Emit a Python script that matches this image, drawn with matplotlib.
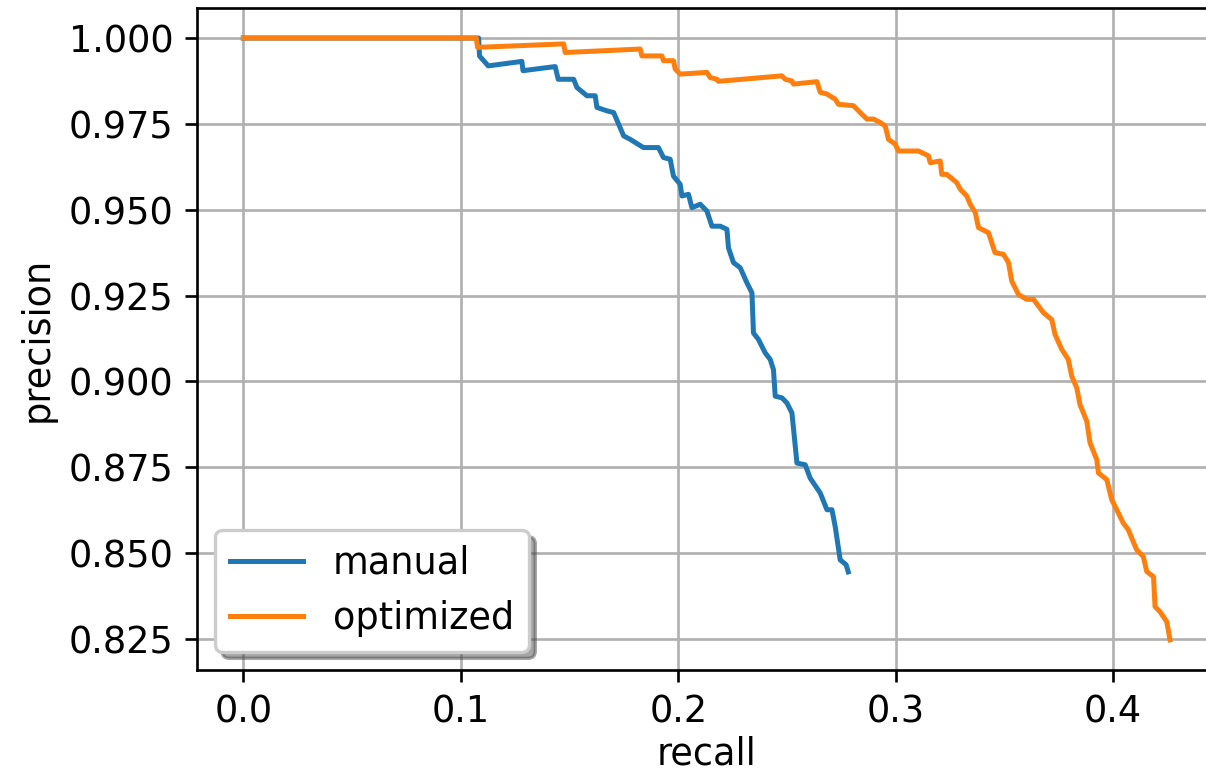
import matplotlib
matplotlib.use("Agg")
import matplotlib.pyplot as plt

# precision / recall points
manual_recall = [0.0, 0.1082, 0.1086, 0.1126, 0.1281, 0.1286, 0.1434, 0.1448, 0.1519,
                 0.1534, 0.1580, 0.1618, 0.1626, 0.1672, 0.1703, 0.1749, 0.1779, 0.1840,
                 0.1909, 0.1932, 0.1963, 0.1978, 0.2009, 0.2017, 0.2047, 0.2063, 0.2101,
                 0.2132, 0.2155, 0.2193, 0.2224, 0.2231, 0.2254, 0.2285, 0.2316, 0.2339,
                 0.2346, 0.2369, 0.2400, 0.2423, 0.2438, 0.2446, 0.2477, 0.2500, 0.2523,
                 0.2546, 0.2584, 0.2607, 0.2653, 0.2684, 0.2707, 0.2722, 0.2745, 0.2772,
                 0.2782]
manual_precision = [1.0, 1.0, 0.9948, 0.9919, 0.9932, 0.9905, 0.9917, 0.9880, 0.9880,
                    0.9856, 0.9832, 0.9832, 0.9798, 0.9788, 0.9783, 0.9715, 0.9705, 0.9681,
                    0.9681, 0.9652, 0.9647, 0.9598, 0.9574, 0.9540, 0.9545, 0.9506, 0.9516,
                    0.9496, 0.9452, 0.9452, 0.9443, 0.9389, 0.9346, 0.9331, 0.9287, 0.9258,
                    0.9141, 0.9122, 0.9083, 0.9064, 0.9034, 0.8957, 0.8952, 0.8937, 0.8908,
                    0.8762, 0.8757, 0.8718, 0.8675, 0.8626, 0.8626, 0.8577, 0.8480, 0.8466,
                    0.8445]

optimized_recall = [0.0, 0.1071, 0.1077, 0.1473, 0.1480, 0.1825, 0.1833, 0.1925, 0.1932,
                    0.1978, 0.1986, 0.2009, 0.2132, 0.2147, 0.2178, 0.2185, 0.2477, 0.2492,
                    0.2523, 0.2530, 0.2638, 0.2653, 0.2684, 0.2722, 0.2737, 0.2806, 0.2845,
                    0.2868, 0.2898, 0.2929, 0.2952, 0.2967, 0.2998, 0.3013, 0.3105, 0.3151,
                    0.3159, 0.3205, 0.3212, 0.3235, 0.3281, 0.3297, 0.3327, 0.3343, 0.3366,
                    0.3381, 0.3427, 0.3457, 0.3496, 0.3519, 0.3534, 0.3565, 0.3603, 0.3634,
                    0.3680, 0.3718, 0.3733, 0.3764, 0.3794, 0.3810, 0.3833, 0.3848, 0.3879,
                    0.3894, 0.3925, 0.3933, 0.3971, 0.3994, 0.4017, 0.4047, 0.4070, 0.4086,
                    0.4109, 0.4139, 0.4155, 0.4186, 0.4193, 0.4216, 0.4247, 0.4262]
optimized_precision = [1.0, 1.0, 0.9973, 0.9983, 0.9958, 0.9968, 0.9948, 0.9948, 0.9934,
                       0.9934, 0.9910, 0.9895, 0.9900, 0.9885, 0.9880, 0.9874, 0.9890, 0.9880,
                       0.9875, 0.9866, 0.9873, 0.9842, 0.9837, 0.9822, 0.9807, 0.9803, 0.9778,
                       0.9764, 0.9764, 0.9754, 0.9744, 0.9705, 0.9691, 0.9671, 0.9671, 0.9657,
                       0.9637, 0.9642, 0.9603, 0.9603, 0.9579, 0.9560, 0.9540, 0.9516, 0.9492,
                       0.9448, 0.9433, 0.9375, 0.9370, 0.9346, 0.9292, 0.9253, 0.9239, 0.9239,
                       0.9200, 0.9180, 0.9137, 0.9093, 0.9064, 0.9015, 0.8981, 0.8932, 0.8884,
                       0.8821, 0.8772, 0.8733, 0.8714, 0.8655, 0.8626, 0.8587, 0.8568, 0.8543,
                       0.8509, 0.8490, 0.8446, 0.8431, 0.8344, 0.8329, 0.8300, 0.8247]

plt.rcParams['font.size'] = 11

dpi = 240
fig = plt.figure(figsize=(1206 / dpi, 774 / dpi), dpi=dpi)
ax = fig.add_axes([0.1634, 0.1344, 0.8452, 0.8553])

ax.plot(manual_recall, manual_precision, label='manual')
ax.plot(optimized_recall, optimized_precision, label='optimized')

ax.set_xlabel('recall', labelpad=1.5)
ax.set_ylabel('precision')
ax.set_xticks([0.0, 0.1, 0.2, 0.3, 0.4])
ax.set_yticks([0.825, 0.85, 0.875, 0.9, 0.925, 0.95, 0.975, 1.0])
ax.grid(True)
ax.legend(loc='lower left', shadow=True)

fig.savefig('out.png', dpi=dpi)
